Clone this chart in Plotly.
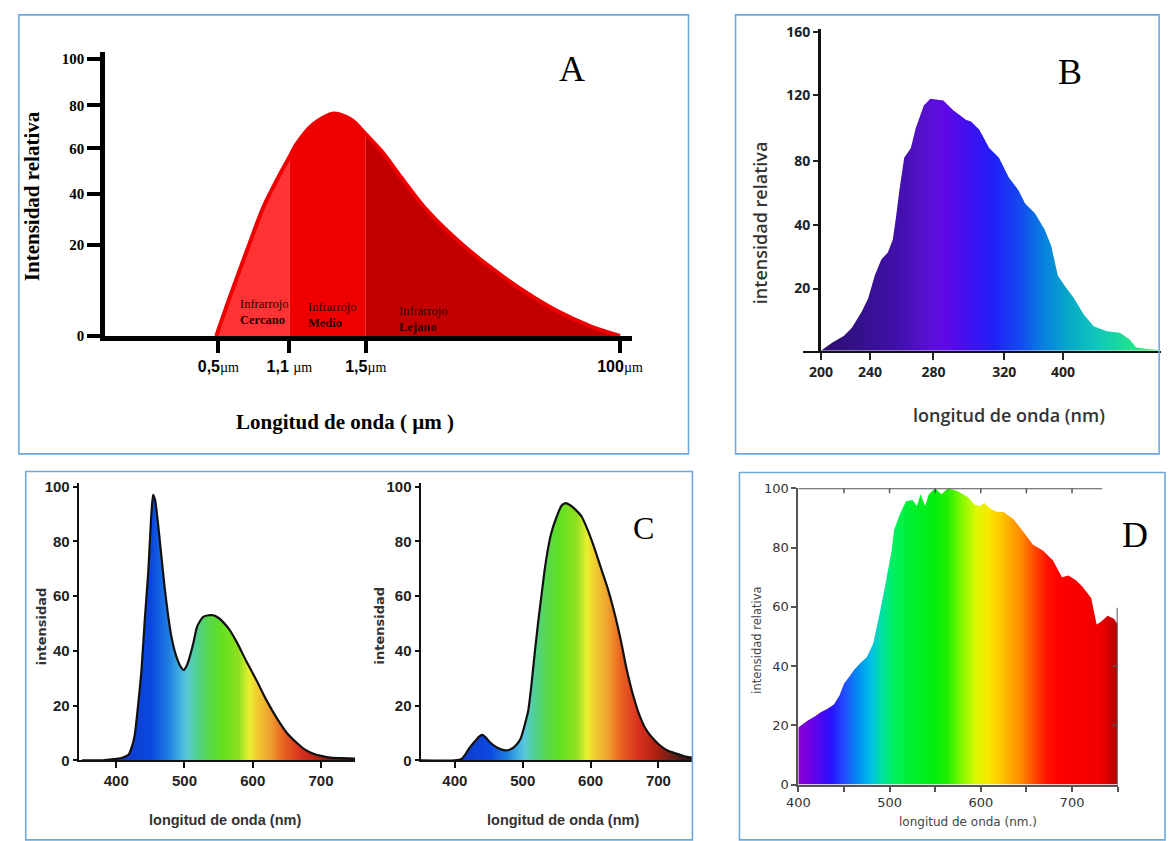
import plotly.graph_objects as go

W, H = 1176, 841


def fx(p):
    return p / W


def fy(p):
    return 1 - p / H


def dx(a, b):
    return [a / W, b / W]


def dy(top, bottom):
    return [1 - bottom / H, 1 - top / H]


# ---------------- Panel A (schematic infrared curve) ----------------
a_tick_pos = [2.15, 3.5, 4.95, 9.78]          # band limits on the schematic axis
a_tick_num = ["0,5", "1,1 ", "1,5", "100"]
a_ytick_pos = [0, 33.0, 51.4, 67.7, 83.2, 100]
a_ytick_text = ["0", "20", "40", "60", "80", "100"]
a_x = [2.11, 2.39, 2.70, 3.01, 3.32, 3.50, 3.63, 3.94, 4.34, 4.69, 4.95,
       5.25, 5.62, 6.11, 6.74, 7.36, 7.98, 8.60, 9.22, 9.78]
a_y = [0, 15.2, 31.2, 46.7, 58.4, 64.6, 69.1, 76.2, 80.3, 77.9, 72.8,
       66.7, 57.3, 45.4, 33.7, 24.2, 15.9, 8.9, 3.5, 0]
a_band_first = ["Infrarrojo", "Infrarrojo", "Infrarrojo"]
a_band_second = ["Cercano", "Medio", "Lejano"]
a_band_colors = ["#FF3333", "#EE0000", "#C20000"]

# ---------------- Panel B (UV spectrum) ----------------
b_xtick_pos = [200, 240.5, 293, 351.4, 400]
b_xtick_text = ["200", "240", "280", "320", "400"]
b_ytick_pos = [31.2, 63.2, 95.2, 128, 160]
b_ytick_text = ["20", "40", "80", "120", "160"]
b_x = [200, 209.5, 218.9, 225.6, 233.8, 239, 244.5, 250, 255.3, 259.4, 262.1,
       264.8, 268.8, 274.3, 278.3, 285, 290.4, 301.2, 309.3, 320.1, 324.1,
       330.9, 339, 347.1, 355.2, 363.3, 368.7, 376.8, 384.9, 390.3, 395.7,
       401.1, 409.2, 417.3, 425.3, 436.2, 447, 455, 460.5, 471.3, 478]
b_y = [0, 4.1, 7.4, 11.5, 19.7, 26.2, 37.7, 45.9, 49.2, 55.8, 67.3,
       80.4, 96.8, 101.7, 111.6, 123, 126.4, 125.5, 120.6, 115.7, 114.9,
       110.8, 101.7, 96.8, 86.9, 80.4, 73.8, 68.9, 60.7, 52.5, 37.7,
       32.8, 26.2, 18, 12.3, 9.8, 9, 5.7, 1.6, 0.8, 0.5]

# ---------------- Panel C (white LED spectra) ----------------
c_xticks = [400, 500, 600, 700]
c_yticks = [0, 20, 40, 60, 80, 100]
cl_wl = [350, 380, 400, 410, 418, 423, 427, 432, 437, 442, 447, 451, 454, 457,
         461, 466, 471, 476, 481, 488, 495, 499, 504, 509, 514, 518, 523, 528,
         535, 542, 550, 565, 577, 590, 606, 620, 635, 650, 664, 676, 688,
         700, 713, 730, 750]
cl_int = [0, 0, 0.5, 1, 2, 5, 9, 20, 33, 52, 69, 88, 97, 95,
          87, 75, 63, 53, 45, 38, 34, 33, 35, 39, 44, 48.5, 51, 52.5,
          53, 53, 52, 48, 43, 36.5, 29, 22, 15.5, 10, 6.5, 4, 2.5,
          1.6, 1, 0.8, 0.6]
cr_wl = [350, 400, 410, 415, 420, 428, 435, 440, 445, 452, 460, 468, 475, 482,
         490, 497, 503, 508, 513, 518, 523, 528, 532, 537, 542, 550, 557, 563,
         570, 578, 587, 596, 605, 615, 625, 634, 644, 653, 663, 672, 680, 690,
         702, 714, 726, 738, 750]
cr_int = [0, 0, 0.5, 2, 4, 6.5, 8.5, 9.3, 8.5, 6.5, 5, 4, 3.6, 4,
          5.5, 8, 13, 18, 28, 40, 51, 61, 69, 77, 83, 89, 93, 94,
          93.2, 91.5, 89, 84, 78, 70.5, 63, 55, 44.5, 33.5, 23.5, 16.5, 12, 8.5,
          5.5, 3.5, 2.5, 1.5, 1]

# ---------------- Panel D (solar spectrum) ----------------
d_xticks = [400, 500, 600, 700]
d_yticks = [0, 20, 40, 60, 80, 100]
d_wl = [400, 410, 418, 425, 432, 439, 445, 450, 456, 461, 468, 475, 482, 489,
        496, 502, 505, 511, 518, 525, 530, 534, 539, 543, 550, 557, 564, 575,
        586, 593, 599, 604, 611, 618, 625, 636, 646, 657, 668, 679, 689, 696,
        704, 711, 721, 727, 732, 739, 746, 750]
d_int = [19.3, 21.5, 23, 24.5, 25.6, 27, 30, 34, 36.5, 38.7, 41, 43, 47.5, 57.5,
         68.5, 78.5, 86, 91, 95.6, 96, 94, 98, 94, 98, 100, 98, 100, 99,
         97, 94.5, 94, 95, 93, 92, 92, 89.5, 85.6, 81, 79, 75.7, 70, 70.6,
         69, 66.9, 63, 54, 55, 57, 56, 54]


def scale(stops, lo, hi):
    return [[(w - lo) / (hi - lo), c] for w, c in stops]


B_STOPS = [(200, "#2C0E6E"), (230, "#34108A"), (260, "#4010A8"), (285, "#5810D0"),
           (300, "#6008E8"), (320, "#4010F0"), (340, "#2020F8"), (360, "#1448F0"),
           (380, "#0880E0"), (400, "#08A8C8"), (425, "#10C8B8"), (450, "#20E090"),
           (470, "#30E870"), (481, "#40E060")]
C_STOPS = [(400, "#1038C8"), (450, "#0A48E0"), (475, "#2080E0"), (490, "#40B0E0"),
           (500, "#58C8D8"), (515, "#50D090"), (530, "#58D850"), (550, "#60E020"),
           (575, "#90E020"), (590, "#E8F030"), (600, "#F0D030"), (620, "#F0A030"),
           (640, "#E86020"), (665, "#D83020"), (690, "#B02010"), (715, "#602018"),
           (740, "#301010"), (750, "#201010")]
D_STOPS = [(400, "#8A00D0"), (415, "#6A00E8"), (435, "#2A10FF"), (450, "#2050FF"),
           (465, "#0090F0"), (478, "#00C0E8"), (490, "#00E0A0"), (502, "#00F060"),
           (520, "#00F030"), (545, "#00EE10"), (560, "#20F000"), (575, "#80F800"),
           (592, "#E0F800"), (605, "#F8E800"), (620, "#FFC000"), (640, "#FF8800"),
           (655, "#FF4400"), (668, "#FF1000"), (680, "#FF0000"), (725, "#F00000"),
           (740, "#C00000"), (750, "#800000")]

fig = go.Figure()

# ---- A traces ----
edges = [-1e9] + a_tick_pos[1:3] + [1e9]
for i in range(3):
    xs = [x for x in a_x if edges[i] <= x <= edges[i + 1]]
    ys = [y for x, y in zip(a_x, a_y) if edges[i] <= x <= edges[i + 1]]
    fig.add_trace(go.Scatter(x=xs, y=ys, xaxis="x", yaxis="y", mode="lines",
                             line=dict(width=0, shape="spline", smoothing=0.8),
                             fill="tozeroy", fillcolor=a_band_colors[i],
                             hoverinfo="skip", showlegend=False))
fig.add_trace(go.Scatter(x=a_x, y=a_y, xaxis="x", yaxis="y", mode="lines",
                         line=dict(color="#EE0000", width=4, shape="spline", smoothing=0.8),
                         hoverinfo="skip", showlegend=False))

# ---- B trace ----
fig.add_trace(go.Scatter(x=b_x, y=b_y, xaxis="x2", yaxis="y2", mode="none",
                         fill="tozeroy",
                         fillgradient=dict(type="horizontal", start=200, stop=481,
                                           colorscale=scale(B_STOPS, 200, 481)),
                         hoverinfo="skip", showlegend=False))

# ---- C traces ----
for wl, it, xa, ya in [(cl_wl, cl_int, "x3", "y3"), (cr_wl, cr_int, "x4", "y4")]:
    fig.add_trace(go.Scatter(x=wl, y=it, xaxis=xa, yaxis=ya, mode="lines",
                             line=dict(width=0, shape="spline", smoothing=0.6),
                             fill="tozeroy",
                             fillgradient=dict(type="horizontal", start=400, stop=750,
                                               colorscale=scale(C_STOPS, 400, 750)),
                             hoverinfo="skip", showlegend=False))
    fig.add_trace(go.Scatter(x=wl, y=it, xaxis=xa, yaxis=ya, mode="lines",
                             line=dict(color="#111111", width=2.2, shape="spline", smoothing=0.6),
                             hoverinfo="skip", showlegend=False))

# ---- D trace ----
fig.add_trace(go.Scatter(x=d_wl, y=d_int, xaxis="x5", yaxis="y5", mode="none",
                         fill="tozeroy",
                         fillgradient=dict(type="horizontal", start=400, stop=750,
                                           colorscale=scale(D_STOPS, 400, 750)),
                         hoverinfo="skip", showlegend=False))

base_ax = dict(showgrid=False, zeroline=False, showline=True, fixedrange=True)

mu = "<span style='font-family:Liberation Serif;font-weight:normal;font-size:14px'>µm</span>"

layout = dict(
    width=W, height=H, autosize=False,
    margin=dict(l=0, r=0, t=0, b=0),
    paper_bgcolor="white", plot_bgcolor="rgba(0,0,0,0)",
    showlegend=False,
    xaxis=dict(base_ax, domain=dx(95, 632), range=[0, 10], anchor="y",
               linecolor="black", linewidth=5, ticks="outside", ticklen=12,
               tickwidth=4, tickcolor="black", tickmode="array",
               tickvals=a_tick_pos, ticktext=[t + mu for t in a_tick_num],
               tickfont=dict(family="Liberation Sans", size=16, color="black", weight="bold")),
    yaxis=dict(base_ax, domain=dy(46, 335), range=[0, 102.4], anchor="x",
               linecolor="black", linewidth=5, ticks="outside", ticklen=13,
               tickwidth=4, tickcolor="black", tickmode="array",
               tickvals=a_ytick_pos, ticktext=a_ytick_text,
               tickfont=dict(family="Liberation Serif", size=15, color="black", weight="bold")),
    xaxis2=dict(base_ax, domain=dx(807, 1172), range=[185.4, 481], anchor="y2",
                linecolor="#111", linewidth=2, ticks="outside", ticklen=7,
                tickwidth=1.5, tickcolor="#222", tickmode="array",
                tickvals=b_xtick_pos, ticktext=b_xtick_text,
                tickfont=dict(family="Open Sans", size=14, color="#222", weight=700)),
    yaxis2=dict(base_ax, domain=dy(22, 350), range=[0, 161.5], anchor="free",
                position=823 / W, linecolor="#111", linewidth=2.5, ticks="outside",
                ticklen=5, tickwidth=1.5, tickcolor="#222", tickmode="array",
                tickvals=b_ytick_pos, ticktext=b_ytick_text,
                tickfont=dict(family="Open Sans", size=14, color="#222", weight=700)),
)

c_tickfont = dict(family="Liberation Sans", size=15, color="#222", weight="bold")
for xa, ya, xd in [("xaxis3", "yaxis3", (68, 350)), ("xaxis4", "yaxis4", (416.7, 694))]:
    xn, yn = xa.replace("axis", ""), ya.replace("axis", "")
    rng = [345, 750] if xa == "xaxis3" else [349.4, 750.1]
    layout[xa] = dict(base_ax, domain=dx(*xd), range=rng, anchor=yn,
                      linecolor="#111", linewidth=2, ticks="outside", ticklen=6,
                      tickwidth=1.5, tickcolor="#111", tickmode="array",
                      tickvals=c_xticks, tickfont=c_tickfont)
    layout[ya] = dict(base_ax, domain=dy(485, 767), range=[0, 101.2], anchor=xn,
                      linecolor="#111", linewidth=2, ticks="outside", ticklen=4,
                      tickwidth=1.5, tickcolor="#111", tickmode="array",
                      tickvals=c_yticks, tickfont=c_tickfont)

d_tickfont = dict(family="DejaVu Sans", size=13, color="#333")
layout["xaxis5"] = dict(base_ax, domain=dx(802, 1127.7), range=[400, 750], anchor="y5",
                        linecolor="#555", linewidth=2, ticks="outside", ticklen=5,
                        tickwidth=1.5, tickcolor="#555", tickmode="array",
                        tickvals=d_xticks, tickfont=d_tickfont,
                        minor=dict(ticks="outside", ticklen=5, tickwidth=1.5,
                                   tickcolor="#555", tickmode="linear", tick0=400, dtick=50))
layout["yaxis5"] = dict(base_ax, domain=dy(490, 791.7), range=[0, 100], anchor="x5",
                        linecolor="#555", linewidth=2, ticks="outside", ticklen=5,
                        tickwidth=1.5, tickcolor="#555", tickmode="array",
                        tickvals=d_yticks, tickfont=d_tickfont)

fig.update_layout(**layout)

# ---- panel borders ----
shapes = []
for x0, y0, x1, y1 in [(7, 8, 690, 455), (738, 8, 1170, 455),
                       (14, 473, 694, 848), (742, 474, 1176, 848)]:
    shapes.append(dict(type="rect", xref="paper", yref="paper",
                       x0=fx(x0), x1=fx(x1), y0=fy(y1), y1=fy(y0),
                       line=dict(color="#6FA8DC", width=1.6), fillcolor="rgba(0,0,0,0)"))

# ---- D partial frame (top and right) ----
gray = dict(color="#555", width=2)
shapes.append(dict(type="line", xref="x5", yref="y5", x0=400, x1=733, y0=100, y1=100, line=gray))
shapes.append(dict(type="line", xref="x5", yref="y5", x0=750, x1=750, y0=0, y1=59.7, line=gray))
for t in [450, 500, 550, 600, 650, 700]:
    shapes.append(dict(type="line", xref="x5", yref="y5", x0=t, x1=t, y0=100, y1=98.3,
                       line=dict(color="#555", width=1.5)))
for t in [20, 40]:
    shapes.append(dict(type="line", xref="x5", yref="y5", x0=750, x1=744.6, y0=t, y1=t,
                       line=dict(color="#555", width=1.5)))
fig.update_layout(shapes=shapes)

# ---- annotations ----
ann = []


def text(t, x, y, size, family, color="black", angle=0, xanchor="center", weight="normal", align="center"):
    ann.append(dict(text=t, x=fx(x), y=fy(y), xref="paper", yref="paper", showarrow=False,
                    textangle=angle, xanchor=xanchor, yanchor="middle", align=align,
                    font=dict(size=size, family=family, color=color, weight=weight)))


# panel letters
text("A", 571, 63, 36, "Liberation Serif")
text("B", 1079, 66, 36, "Liberation Serif")
text("C", 644, 530, 32, "Liberation Serif")
text("D", 1145, 538, 36, "Liberation Serif")

# panel A titles and band names
text("Intensidad relativa", 20, 193, 21, "Liberation Serif", angle=-90, weight="bold")
text("Longitud de onda ( µm )", 340, 423, 21, "Liberation Serif", weight="bold")
band_left = [230, 300, 393]
band_y = [311, 313.5, 317.5]
for i in range(3):
    text(a_band_first[i] + "<br><b>" + a_band_second[i] + "</b>", band_left[i], band_y[i],
         12.5, "Liberation Serif", color="#2A0000", xanchor="left", align="left")

# panel B titles
text("intensidad relativa", 763, 220, 18, "Open Sans", color="#333", angle=-90, weight=600)
text("longitud de onda (nm)", 1017, 415, 18, "Open Sans", color="#333", weight=600)

# panel C titles
for xt, xl in [(30, 217), (375, 562)]:
    text("intensidad", xt, 630, 13, "DejaVu Sans", color="#333", angle=-90, weight="bold")
    text("longitud de onda (nm)", xl, 828, 14.5, "Liberation Sans", color="#333", weight="bold")

# panel D titles
text("intensidad relativa", 760, 645, 11.5, "DejaVu Sans", color="#444", angle=-90)
text("longitud de onda (nm.)", 975, 830, 12, "DejaVu Sans", color="#444")

fig.update_layout(annotations=ann)

fig.write_html("out.html", config={"displayModeBar": False},
               post_script="document.body.style.margin='0px';document.body.style.overflow='hidden';")
